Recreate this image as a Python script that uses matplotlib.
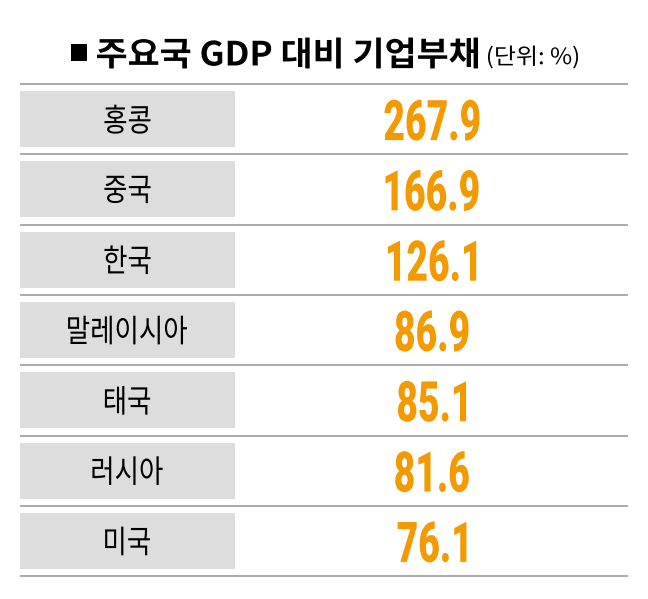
import matplotlib
matplotlib.use("Agg")
import matplotlib.pyplot as plt
from matplotlib.patches import Rectangle, PathPatch
from matplotlib.textpath import TextPath
from matplotlib.font_manager import FontProperties
from matplotlib.transforms import Affine2D

plt.rcParams['font.family'] = ['Noto Sans CJK KR', 'DejaVu Sans']

countries = ['홍콩', '중국', '한국', '말레이시아', '태국', '러시아', '미국']
debt = [267.9, 166.9, 126.1, 86.9, 85.1, 81.6, 76.1]
bullet = '■'
title = '주요국 GDP 대비 기업부채'
unit = '(단위: %)'

W, H = 648, 599
fig = plt.figure(figsize=(W / 100, H / 100), dpi=100)
ax = fig.add_axes([0, 0, 1, 1])
ax.set_xlim(0, W)
ax.set_ylim(H, 0)
ax.axis('off')

kr_bold = FontProperties(family='Noto Sans CJK KR', weight='bold')
kr_med = FontProperties(family='Noto Sans CJK KR', weight='medium')
kr_reg = FontProperties(family='Noto Sans CJK KR', weight='regular')
num_font = FontProperties(family='Roboto', weight='black')


def ink(s, prop):
    tp = TextPath((0, 0), s, size=100, prop=prop)
    return tp, tp.get_extents()


def fit(s, prop, w, h):
    _, e = ink(s, prop)
    return w / e.width, h / e.height


def draw(s, prop, sx, sy, cx, cy, color='black'):
    # condensed text: draw glyph outlines with separate x / y scale
    tp, e = ink(s, prop)
    tr = (Affine2D().translate(-(e.x0 + e.x1) / 2, -(e.y0 + e.y1) / 2)
          .scale(sx, -sy).translate(cx, cy))
    ax.add_patch(PathPatch(tr.transform_path(tp), fc=color, ec='none', lw=0))


# title
sx, sy = fit(bullet, kr_bold, 16, 17)
draw(bullet, kr_bold, sx, sy, 79, 52)
sx, sy = fit(title, kr_bold, 381, 31)
draw(title, kr_bold, sx, sy, (97 + 478) / 2, 53)
sx, sy = fit(unit, kr_reg, 90, 23)
draw(unit, kr_reg, sx, sy, (488 + 578) / 2, 57)

top = 84
pitch = 70.3
left, right = 20, 628
box_w = 215
box_h = 56
num_x = 432
orange = '#f39a00'
line_c = '#aaaaaa'

lab_sx, lab_sy = fit(countries[0], kr_med, 46, 29)
num_sx, num_sy = fit(f'{debt[0]:.1f}', num_font, 95, 41)

ax.hlines(top, left, right, color=line_c, lw=1.4)
for i, (c, v) in enumerate(zip(countries, debt)):
    y0 = top + i * pitch
    yc = y0 + pitch / 2
    ax.add_patch(Rectangle((left, yc - box_h / 2), box_w, box_h,
                           facecolor='#dddddd', edgecolor='none'))
    draw(c, kr_med, lab_sx, lab_sy, left + box_w / 2, yc)
    draw(f'{v:.1f}', num_font, num_sx, num_sy, num_x, yc + 1, orange)
    ax.hlines(y0 + pitch, left, right, color=line_c, lw=1.4)

fig.savefig('out.png', dpi=100)
